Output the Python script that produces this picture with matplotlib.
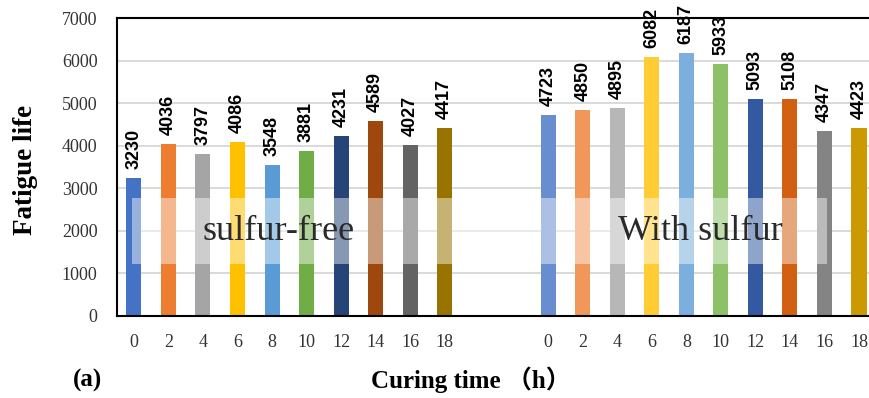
import matplotlib
matplotlib.use("Agg")
import matplotlib.pyplot as plt
from matplotlib.patches import Rectangle

# ---- data ----
hours = ["0", "2", "4", "6", "8", "10", "12", "14", "16", "18"]
sulfur_free = [3230, 4036, 3797, 4086, 3548, 3881, 4231, 4589, 4027, 4417]
with_sulfur = [4723, 4850, 4895, 6082, 6187, 5933, 5093, 5108, 4347, 4423]
group_labels = ["sulfur-free", "With sulfur"]
colors_free = ["#4472C4", "#ED7D31", "#A5A5A5", "#FFC000", "#5B9BD5",
               "#70AD47", "#264478", "#9E480E", "#636363", "#997300"]
colors_sulfur = ["#698ED0", "#F1975A", "#B7B7B7", "#FFCD33", "#7CAFDD",
                 "#8CC168", "#335AA1", "#D26012", "#848484", "#CC9A00"]
y_ticks = [0, 1000, 2000, 3000, 4000, 5000, 6000, 7000]

serif = ["Liberation Serif", "DejaVu Serif"]
serif_cjk = ["Liberation Serif", "Noto Sans CJK SC"]

fig = plt.figure(figsize=(8.7, 3.98), dpi=100)
ax = fig.add_axes([0.1345, 0.2068, 0.8723, 0.7472])

n = len(hours)
gap = 2
x_free = list(range(n))
x_sul = [n + gap + i for i in range(n)]
positions = x_free + x_sul
values = sulfur_free + with_sulfur
colors = colors_free + colors_sulfur
labels = hours + hours

bars = ax.bar(positions, values, width=0.435, color=colors, zorder=2)

for b, v in zip(bars, values):
    ax.annotate(str(v), (b.get_x() + b.get_width() / 2, v),
                xytext=(0, 6.5), textcoords="offset points",
                rotation=90, ha="center", va="bottom",
                fontsize=13, fontweight="bold",
                family=["Liberation Sans", "DejaVu Sans"], color="black",
                zorder=5)

ax.set_xlim(-0.49, positions[-1] + 0.49)
ax.set_ylim(0, 7000)
ax.set_yticks(y_ticks)
ax.set_yticklabels([str(t) for t in y_ticks], family=serif, fontsize=13,
                   color="#333333")
ax.set_xticks(positions)
ax.set_xticklabels(labels, family=serif, fontsize=13, color="#333333")
ax.tick_params(axis="both", length=0)
ax.tick_params(axis="y", pad=14)
ax.tick_params(axis="x", pad=13)

ax.yaxis.grid(True, color="#D9D9D9", lw=1.4, zorder=0)
ax.set_axisbelow(True)
for s in ["left", "bottom", "top"]:
    ax.spines[s].set_color("black")
    ax.spines[s].set_linewidth(1.5)
ax.spines["right"].set_visible(False)

# semi-transparent text box overlay
ax.add_patch(Rectangle((-0.067, 1210), 20.08 + 0.067, 2777 - 1210,
                       facecolor="white", alpha=0.45, edgecolor="none",
                       zorder=3))
ax.text(4.2, 1990, group_labels[0], family=serif, fontsize=26,
        color="#2a2a2a", ha="center", va="center", zorder=4)
ax.text(16.4, 1990, group_labels[1], family=serif, fontsize=26,
        color="#2a2a2a", ha="center", va="center", zorder=4)

fig.text(0.029, 0.574, "Fatigue life", rotation=90, family=serif,
         fontsize=19.5, fontweight="bold", ha="center", va="center")
fig.text(0.541, 0.045, "Curing time （h）", family=serif_cjk,
         fontsize=18, fontweight="bold", ha="center", va="center")
fig.text(0.1, 0.045, "(a)", family=serif, fontsize=18,
         fontweight="bold", ha="center", va="center")

fig.savefig("out.png", dpi=100)
